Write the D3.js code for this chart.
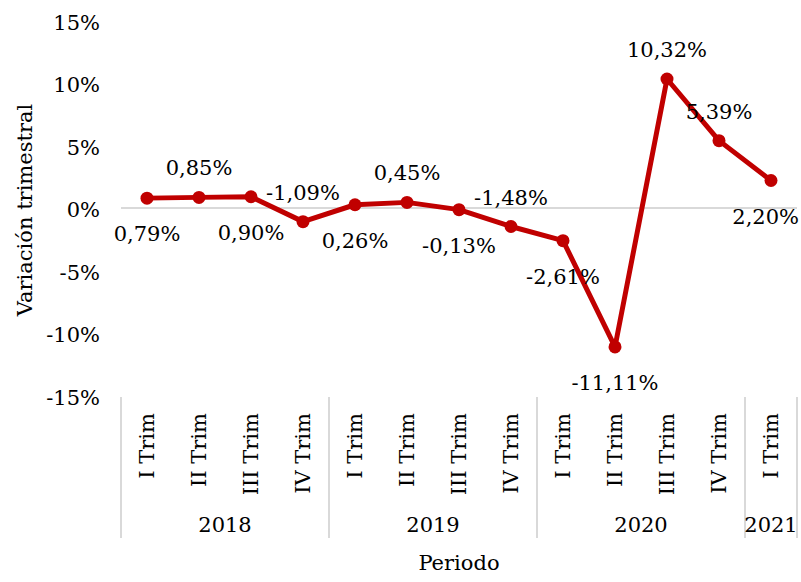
<!DOCTYPE html>
<html>
<head>
    <meta charset="utf-8" />
    <title>Variación trimestral</title>
    <script src="https://cdn.jsdelivr.net/npm/d3@7/dist/d3.min.js"></script>
    <style>
        body {
            margin: 0;
            background: white;
        }
        svg text {
            font-family: "DejaVu Serif", serif;
            fill: #000;
        }
    </style>
</head>
<body>
    <div id="chart_container"></div>

    <script type="text/javascript">
        // datos
        var quarters = ["I Trim", "II Trim", "III Trim", "IV Trim",
                        "I Trim", "II Trim", "III Trim", "IV Trim",
                        "I Trim", "II Trim", "III Trim", "IV Trim",
                        "I Trim"];
        var years = ["2018", "2019", "2020", "2021"];
        var yearOf = ["2018", "2018", "2018", "2018",
                      "2019", "2019", "2019", "2019",
                      "2020", "2020", "2020", "2020",
                      "2021"];
        var values = [0.79, 0.85, 0.90, -1.09, 0.26, 0.45, -0.13, -1.48, -2.61, -11.11, 10.32, 5.39, 2.20];
        var labelSide = ["below", "above", "below", "above", "below", "above", "below",
                         "above", "below", "below", "above", "above", "below"];
        var yTicks = [-15, -10, -5, 0, 5, 10, 15];

        var width = 801, height = 582;
        var plotLeft = 121, plotRight = 797, plotTop = 20.5, plotBottom = 395.5;
        var red = "#C00000", grey = "#d9d9d9";

        var locale = d3.formatLocale({decimal: ",", thousands: ".", grouping: [3], currency: ["", "€"], minus: "-"});
        var fmtTick = locale.format(".0f");
        var fmtLabel = locale.format(".2f");

        var svg = d3.select("#chart_container").append("svg")
            .attr("width", width)
            .attr("height", height);

        var idx = d3.range(values.length);
        var x = d3.scaleBand().domain(idx).range([plotLeft, plotRight]);
        var y = d3.scaleLinear().domain([-15, 15]).range([plotBottom, plotTop]);

        // eje y
        svg.selectAll(".ytick")
            .data(yTicks)
            .enter().append("text")
            .attr("class", "ytick")
            .attr("x", 100)
            .attr("y", function (d) { return y(d) + 2; })
            .attr("text-anchor", "end")
            .attr("dominant-baseline", "central")
            .style("font-size", "21px")
            .text(function (d) { return fmtTick(d) + "%"; });

        // linea del cero
        svg.append("line")
            .attr("x1", plotLeft).attr("x2", plotRight)
            .attr("y1", y(0)).attr("y2", y(0))
            .attr("stroke", grey)
            .attr("stroke-width", 2);

        // separadores de años
        var bounds = [0];
        years.forEach(function (yr) {
            bounds.push(bounds[bounds.length - 1] + yearOf.filter(function (v) { return v === yr; }).length);
        });
        svg.selectAll(".sep")
            .data(bounds)
            .enter().append("line")
            .attr("class", "sep")
            .attr("x1", function (d) { return plotLeft + d * x.step(); })
            .attr("x2", function (d) { return plotLeft + d * x.step(); })
            .attr("y1", 397).attr("y2", 538)
            .attr("stroke", grey)
            .attr("stroke-width", 2);

        // trimestres
        svg.selectAll(".qlab")
            .data(quarters)
            .enter().append("text")
            .attr("class", "qlab")
            .attr("transform", function (d, i) {
                return "translate(" + (x(i) + x.bandwidth() / 2) + ",413) rotate(-90)";
            })
            .attr("text-anchor", "end")
            .attr("dominant-baseline", "central")
            .style("font-size", "21px")
            .text(function (d) { return d; });

        // años
        svg.selectAll(".ylab")
            .data(years)
            .enter().append("text")
            .attr("class", "ylab")
            .attr("x", function (d, i) { return plotLeft + (bounds[i] + bounds[i + 1]) / 2 * x.step(); })
            .attr("y", 525)
            .attr("text-anchor", "middle")
            .attr("dominant-baseline", "central")
            .style("font-size", "21px")
            .text(function (d) { return d; });

        // titulos
        svg.append("text")
            .attr("x", (plotLeft + plotRight) / 2)
            .attr("y", 563)
            .attr("text-anchor", "middle")
            .attr("dominant-baseline", "central")
            .style("font-size", "21px")
            .text("Periodo");

        svg.append("text")
            .attr("transform", "translate(25,210) rotate(-90)")
            .attr("text-anchor", "middle")
            .attr("dominant-baseline", "central")
            .style("font-size", "21px")
            .text("Variación trimestral");

        // serie
        var line = d3.line()
            .x(function (d, i) { return x(i) + x.bandwidth() / 2; })
            .y(function (d) { return y(d); });

        svg.append("path")
            .datum(values)
            .attr("d", line)
            .attr("fill", "none")
            .attr("stroke", red)
            .attr("stroke-width", 5)
            .attr("stroke-linejoin", "round");

        svg.selectAll(".dot")
            .data(values)
            .enter().append("circle")
            .attr("class", "dot")
            .attr("cx", function (d, i) { return x(i) + x.bandwidth() / 2; })
            .attr("cy", function (d) { return y(d); })
            .attr("r", 6.5)
            .attr("fill", red);

        // etiquetas de datos
        svg.selectAll(".dlab")
            .data(values)
            .enter().append("text")
            .attr("class", "dlab")
            .attr("x", function (d, i) { return x(i) + x.bandwidth() / 2; })
            .attr("y", function (d, i) { return y(d) + (labelSide[i] === "above" ? -29 : 36); })
            .attr("text-anchor", "middle")
            .attr("dominant-baseline", "central")
            .style("font-size", "21px")
            .text(function (d) { return fmtLabel(d) + "%"; })
            .each(function () {
                // que no se corte en el borde derecho
                var b = this.getBBox();
                if (b.x + b.width > width - 2) {
                    d3.select(this).attr("x", +d3.select(this).attr("x") - (b.x + b.width - (width - 2)));
                }
            });
    </script>
</body>
</html>
